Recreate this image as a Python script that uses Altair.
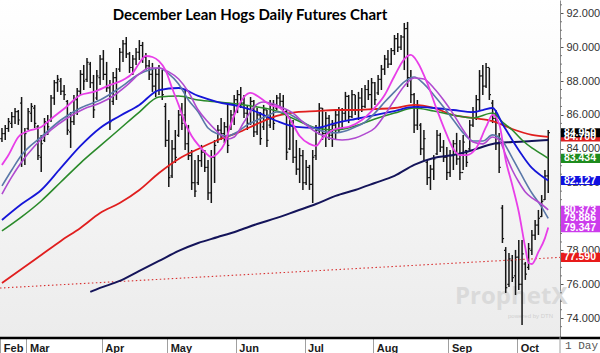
import json
import altair as alt
import pandas as pd

TITLE = "December Lean Hogs Daily Futures Chart"

# ---- axis text
month_names = ["Feb", "Mar", "Apr", "May", "Jun", "Jul", "Aug", "Sep", "Oct"]
month_first_bar = [0, 8, 31, 51, 72, 93, 114, 137, 158]
y_ticks = [74, 76, 78, 80, 82, 84, 86, 88, 90, 92]
y_minor_ticks = [73.5, 74.5, 75, 75.5, 76.5, 77, 77.5, 78.5, 79, 79.5, 80.5, 81, 81.5,
                 82.5, 83, 83.5, 84.5, 85, 85.5, 86.5, 87, 87.5, 88.5, 89, 89.5,
                 90.5, 91, 91.5, 92.5]

# ---- daily OHLC bars (index 0 = first visible trading day)
bar_open = [84.6, 84.9, 85.2, 85.5, 85.9, 86.2, 86.7, 83.4, 85.2, 86.1,
            86.4, 85.3, 83.5, 84.5, 85.5, 85.7, 87.0, 87.9, 88.0, 87.4,
            86.8, 85.0, 85.6, 86.9, 87.4, 88.4, 88.1, 89.0, 87.9, 87.0,
            88.2, 89.3, 88.4, 87.6, 86.8, 88.2, 88.7, 89.7, 90.2, 89.6,
            88.8, 89.3, 89.7, 90.1, 89.4, 88.9, 88.4, 87.7, 88.4, 87.5,
            86.5, 84.5, 82.4, 84.0, 84.8, 86.0, 86.0, 84.3, 83.6, 82.0,
            82.0, 83.3, 83.8, 82.9, 81.4, 83.5, 84.5, 85.1, 84.9, 85.3,
            85.3, 86.0, 86.9, 87.2, 86.7, 86.1, 85.5, 86.8, 85.0, 86.0,
            85.3, 86.3, 85.4, 86.6, 86.4, 87.0, 86.8, 86.2, 84.0, 85.4,
            83.5, 82.8, 83.6, 82.0, 82.9, 81.9, 83.6, 85.1, 86.4, 84.9,
            85.8, 84.8, 85.4, 86.0, 85.2, 86.1, 87.1, 85.9, 87.2, 86.3,
            87.0, 86.5, 87.5, 87.2, 87.9, 87.3, 88.1, 88.7, 89.3, 89.0,
            89.8, 90.5, 90.0, 90.6, 91.1, 88.2, 87.2, 85.4, 85.4, 84.0,
            83.2, 82.3, 82.8, 83.7, 84.8, 84.1, 83.5, 82.6, 83.6, 84.3,
            83.4, 82.6, 83.9, 84.0, 85.4, 86.2, 86.9, 88.3, 87.7, 88.8,
            86.7, 85.8, 84.3, 80.5, 78.0, 76.0, 77.4, 76.5, 77.6, 76.0,
            77.2, 77.0, 78.0, 78.9, 79.5, 80.0, 81.0, 82.4]
bar_high = [85.23, 85.41, 85.82, 86.17, 86.41, 86.29, 87.06, 85.23, 86.41, 86.70,
            86.59, 85.41, 84.82, 85.82, 85.99, 87.18, 88.06, 88.36, 88.18, 87.77,
            86.88, 86.17, 87.18, 87.59, 88.65, 88.95, 89.36, 89.13, 88.36, 88.65,
            89.54, 89.83, 89.13, 88.06, 88.54, 88.77, 89.95, 90.42, 90.60, 89.72,
            89.54, 89.95, 90.42, 90.31, 89.66, 89.24, 89.07, 88.77, 88.95, 88.65,
            86.70, 85.70, 84.52, 85.11, 86.29, 86.70, 87.47, 85.41, 83.93, 83.34,
            83.63, 84.23, 83.93, 83.34, 83.93, 84.52, 85.41, 85.82, 85.58, 86.70,
            86.29, 87.18, 87.47, 87.65, 87.18, 86.59, 87.06, 86.88, 86.41, 86.17,
            86.59, 86.29, 86.88, 86.88, 87.18, 87.30, 87.18, 86.29, 85.82, 85.70,
            84.52, 84.05, 83.93, 83.34, 83.05, 83.93, 85.41, 86.70, 86.41, 86.17,
            85.99, 85.70, 86.29, 86.47, 86.41, 87.36, 87.18, 87.47, 87.18, 87.36,
            87.59, 87.77, 88.06, 88.18, 87.95, 88.36, 88.95, 89.54, 89.83, 89.95,
            90.72, 90.84, 90.72, 91.43, 91.49, 88.65, 87.30, 86.88, 85.52, 85.11,
            83.34, 83.05, 83.63, 85.11, 84.94, 84.52, 84.11, 83.93, 84.52, 84.94,
            84.52, 84.82, 83.93, 85.70, 86.47, 87.18, 88.65, 88.95, 89.07, 88.77,
            86.88, 86.29, 84.94, 80.68, 78.20, 77.85, 77.73, 78.03, 78.62, 78.62,
            77.32, 78.44, 79.21, 79.80, 80.39, 81.27, 82.75, 85.11]
bar_low = [84.40, 84.52, 85.00, 85.23, 85.47, 85.41, 82.93, 83.05, 85.11, 85.58,
           85.23, 83.34, 82.63, 84.40, 84.82, 85.58, 86.59, 87.36, 87.18, 86.88,
           84.82, 84.05, 85.41, 85.99, 87.18, 87.47, 87.95, 87.59, 85.82, 86.88,
           87.77, 88.06, 87.36, 85.11, 86.59, 86.88, 88.54, 89.13, 89.36, 88.48,
           88.36, 88.95, 89.24, 89.07, 88.65, 88.06, 87.36, 87.06, 87.18, 86.88,
           84.11, 81.75, 82.28, 83.16, 84.70, 85.11, 83.93, 83.34, 81.57, 81.16,
           81.86, 82.93, 82.63, 80.98, 80.80, 81.98, 84.34, 84.52, 84.34, 83.75,
           85.11, 85.41, 86.11, 86.41, 85.82, 85.11, 85.41, 84.70, 84.82, 84.23,
           85.11, 84.11, 85.23, 85.11, 86.29, 86.41, 85.99, 83.34, 83.93, 83.16,
           82.46, 81.98, 81.57, 81.86, 81.57, 80.80, 83.34, 84.82, 84.52, 84.11,
           84.52, 84.11, 84.52, 84.94, 85.11, 85.70, 85.52, 85.82, 85.99, 85.70,
           86.17, 86.41, 86.88, 86.29, 86.59, 87.18, 87.47, 88.36, 88.77, 88.95,
           89.54, 89.72, 89.83, 88.65, 87.65, 86.70, 84.94, 85.11, 83.63, 83.34,
           81.86, 81.57, 82.16, 83.63, 83.81, 83.22, 82.16, 82.34, 82.75, 83.05,
           82.16, 82.75, 82.93, 83.93, 85.29, 85.70, 86.29, 87.18, 87.59, 86.88,
           85.52, 83.93, 82.57, 78.44, 75.49, 75.84, 76.14, 75.37, 75.67, 73.60,
           76.26, 76.85, 77.73, 78.62, 78.91, 79.98, 80.98, 81.39]
bar_close = [84.9, 85.2, 85.6, 85.9, 86.2, 85.7, 83.3, 84.9, 86.2, 86.5,
             85.5, 83.6, 84.3, 85.6, 85.3, 87.0, 87.9, 88.1, 87.4, 87.2,
             85.1, 85.6, 86.9, 87.4, 88.4, 88.0, 89.1, 87.9, 86.3, 88.3,
             89.3, 88.4, 87.6, 85.6, 88.2, 87.3, 89.7, 90.2, 89.6, 88.8,
             89.3, 89.7, 90.1, 89.4, 88.9, 88.4, 87.7, 88.4, 87.5, 87.2,
             84.5, 82.3, 84.0, 83.5, 86.0, 85.5, 84.3, 83.6, 82.0, 81.5,
             83.3, 83.8, 82.9, 81.4, 83.5, 84.2, 85.1, 84.9, 85.3, 84.2,
             86.0, 86.9, 87.2, 86.7, 86.1, 85.5, 86.8, 85.0, 86.0, 84.6,
             86.3, 84.5, 86.6, 85.5, 87.0, 86.8, 86.2, 83.8, 85.4, 83.5,
             82.8, 83.6, 82.0, 82.9, 81.9, 83.5, 85.1, 86.4, 84.9, 85.8,
             84.8, 85.4, 86.0, 85.2, 86.1, 87.1, 85.9, 87.2, 86.3, 87.0,
             86.5, 87.5, 87.2, 87.9, 86.9, 88.1, 88.7, 89.3, 89.0, 89.8,
             90.5, 90.0, 90.6, 91.1, 88.2, 87.2, 85.4, 86.5, 84.0, 84.6,
             82.3, 82.8, 83.4, 84.8, 84.1, 83.5, 82.6, 83.6, 84.3, 83.4,
             82.6, 84.4, 83.2, 85.4, 86.2, 86.9, 88.3, 87.7, 88.8, 87.2,
             85.8, 84.3, 82.9, 78.7, 75.8, 77.5, 76.4, 77.6, 76.0, 77.8,
             76.6, 78.1, 78.9, 79.5, 79.9, 80.9, 82.4, 84.95]

# ---- moving-average lines (bar index, price)
ma_magenta_idx = [0, 2, 5, 8, 12, 15, 20, 24, 28, 33, 37, 40, 42, 44, 46, 48, 50, 52, 54, 56,
                  58, 60, 62, 64, 66, 68, 70, 72, 74, 76, 79, 82, 85, 88, 91, 94, 96, 98, 102, 106,
                  110, 113, 117, 120, 123, 125, 127, 130, 133, 136, 138, 140, 142, 145, 148, 150, 152, 154, 156, 158,
                  160, 161, 162, 164, 166, 167]
ma_magenta_val = [83.05, 83.63, 84.70, 85.05, 85.29, 85.76, 86.53, 87.18, 87.36, 87.77, 88.06, 88.48, 89.07, 89.48, 89.42, 89.18, 88.65, 87.59, 86.59, 85.52,
                  84.76, 84.23, 83.81, 83.52, 83.75, 84.29, 85.47, 86.41, 87.06, 87.30, 87.00, 86.59, 86.41, 85.76, 84.76, 84.29, 84.17, 84.64, 85.17, 85.29,
                  85.70, 86.23, 87.18, 88.30, 89.30, 89.54, 89.13, 87.89, 86.29, 84.82, 83.99, 83.63, 83.63, 84.05, 85.29, 86.00, 85.47, 83.34, 81.86, 80.27,
                  78.15, 77.26, 77.20, 77.91, 78.73, 79.35]

ma_violet_idx = [0, 3, 6, 10, 15, 20, 25, 30, 34, 38, 42, 45, 48, 51, 54, 57, 60, 63, 66, 69,
                 71, 74, 77, 80, 83, 86, 89, 92, 96, 100, 104, 108, 111, 114, 117, 120, 123, 126, 129, 132,
                 135, 138, 141, 144, 147, 150, 152, 154, 156, 158, 160, 162, 164, 167]
ma_violet_val = [81.33, 82.34, 83.22, 84.17, 85.11, 85.82, 86.35, 86.70, 87.12, 87.71, 88.42, 88.77, 88.77, 88.54, 88.12, 87.36, 86.29, 85.58, 84.99, 84.58,
                 84.70, 85.58, 86.47, 86.76, 86.65, 86.41, 86.11, 85.58, 84.99, 84.64, 84.52, 84.64, 84.88, 85.23, 86.00, 86.88, 87.71, 88.18, 88.12, 87.59,
                 86.88, 86.05, 85.11, 84.40, 84.29, 84.70, 84.52, 83.63, 82.75, 82.04, 81.45, 81.10, 80.86, 80.40]

ma_steel_idx = [0, 3, 6, 12, 18, 24, 30, 36, 42, 45, 48, 51, 54, 57, 60, 63, 66, 69, 72, 75,
                78, 81, 84, 87, 90, 93, 96, 99, 102, 105, 108, 111, 114, 117, 120, 123, 126, 129, 132, 135,
                138, 141, 144, 147, 150, 153, 156, 159, 162, 165, 167]
ma_steel_val = [81.81, 82.75, 83.63, 84.70, 85.70, 86.41, 86.88, 87.59, 88.42, 88.65, 88.77, 88.42, 87.83, 86.88, 86.17, 85.23, 84.88, 84.76, 85.00, 85.41,
                85.70, 85.94, 86.17, 86.11, 85.82, 85.47, 85.17, 85.00, 84.94, 85.05, 85.29, 85.58, 86.11, 86.76, 87.36, 87.95, 88.24, 87.83, 87.18, 86.47,
                85.70, 84.94, 84.46, 84.46, 84.82, 84.46, 83.46, 82.40, 81.39, 80.56, 79.89]

ma_blue_idx = [0, 6, 12, 18, 24, 30, 36, 42, 48, 54, 60, 66, 72, 78, 84, 90, 96, 102, 108, 114,
               120, 126, 132, 138, 144, 147, 150, 153, 156, 159, 162, 165, 167]
ma_blue_val = [79.80, 80.74, 81.57, 82.87, 84.17, 85.23, 85.94, 86.59, 87.47, 87.59, 87.12, 86.76, 86.53, 86.17, 85.64, 85.29, 85.23, 85.52, 85.76, 85.99,
               86.23, 86.47, 86.41, 86.29, 86.17, 86.29, 86.41, 85.47, 84.52, 83.63, 82.87, 82.40, 82.13]

ma_green_idx = [0, 6, 12, 18, 24, 30, 36, 42, 48, 54, 60, 66, 72, 78, 84, 90, 96, 102, 108, 114,
                120, 126, 132, 138, 144, 150, 153, 156, 159, 162, 165, 167]
ma_green_val = [79.15, 79.98, 80.92, 82.04, 83.16, 84.17, 85.17, 86.17, 87.06, 87.12, 86.88, 86.76, 86.65, 86.47, 86.23, 85.70, 85.23, 85.11, 85.35, 85.76,
                86.11, 86.41, 86.23, 85.99, 85.82, 86.11, 85.58, 85.11, 84.52, 84.05, 83.69, 83.43]

ma_red_idx = [0, 6, 12, 18, 24, 30, 36, 42, 48, 54, 60, 66, 72, 78, 84, 90, 96, 102, 108, 114,
              120, 126, 132, 138, 144, 150, 156, 162, 167]
ma_red_val = [76.08, 76.90, 77.73, 78.56, 79.33, 80.21, 80.80, 81.57, 82.57, 83.40, 83.99, 84.52, 84.94, 85.47, 85.94, 86.17, 86.23, 86.29, 86.29, 86.35,
              86.41, 86.59, 86.41, 85.99, 85.82, 85.64, 85.17, 84.82, 84.70]

ma_navy_idx = [27, 30, 36, 42, 48, 54, 60, 66, 72, 78, 84, 90, 96, 102, 108, 114, 120, 126, 132, 138,
               144, 150, 156, 162, 167]
ma_navy_val = [75.55, 75.79, 76.20, 76.79, 77.38, 77.97, 78.44, 78.79, 79.15, 79.56, 79.92, 80.33, 80.74, 81.22, 81.57, 81.98, 82.40, 83.05, 83.46, 83.63,
               83.93, 84.29, 84.40, 84.46, 84.52]

trend_idx = [-0.6, 170.6]
trend_val = [75.78, 77.59]

# ---- last-value tags on the price axis
tag_values = [84.70, 84.95, 83.434, 82.127, 80.373, 79.886, 79.347, 77.590]
tag_colors = ["#e01e1e", "#000000", "#1e8c1e", "#1010e0", "#cc3cec", "#cc3cec", "#cc3cec", "#e81a1a"]

# ------------------------------------------------------------------
W, H = 560, 337
xs = alt.Scale(domain=[-0.6, 170.6], nice=False, zero=False)
ys = alt.Scale(domain=[72.89, 92.785], nice=False, zero=False)

tick_pos = [m - 0.5 for m in month_first_bar]
label_expr = f"{json.dumps(month_names)}[indexof({json.dumps(tick_pos)}, datum.value)]"
xa = alt.Axis(values=tick_pos, labelExpr=label_expr, orient="bottom", domain=False, grid=False,
              ticks=True, tickSize=16, tickColor="#a0a0a0", tickWidth=1,
              labelAlign="left", labelBaseline="middle", labelPadding=-5, labelOffset=3,
              labelFontSize=11, labelFontWeight="bold", labelFont="Liberation Sans",
              labelColor="#1a1a1a", labelFlush=False, labelOverlap=False, title=None)
ya = alt.Axis(values=y_ticks, format=".3f", orient="right", grid=False, domain=True,
              domainColor="#8a8a8a", tickSize=3, tickColor="#555555", labelPadding=3,
              labelFontSize=11, labelFont="Liberation Sans", labelColor="#333333",
              title=None, zindex=0)


def X(field):
    return alt.X(field, type="quantitative", scale=xs, axis=xa)


def Y(field):
    return alt.Y(field, type="quantitative", scale=ys, axis=ya)


one = alt.Data(values=[{}])

background = alt.Chart(one).mark_rect(
    fill=alt.Gradient(gradient="linear", x1=0, x2=0, y1=0, y2=1,
                      stops=[alt.GradientStop(offset=0, color="#ffffff"),
                             alt.GradientStop(offset=1, color="#ececec")])
).encode(x=alt.value(0), x2=alt.value(W), y=alt.value(0), y2=alt.value(H))

minor = alt.Chart(pd.DataFrame({"v": y_minor_ticks})).mark_rule(
    color="#777777", strokeWidth=1).encode(x=alt.value(W), x2=alt.value(W + 2), y=Y("v"))

n = len(bar_close)
bars_df = pd.DataFrame({"i": list(range(n)), "open": bar_open, "high": bar_high,
                        "low": bar_low, "close": bar_close})
bar_color = "#151515"
hl = alt.Chart(bars_df).mark_rule(color=bar_color, strokeWidth=1.5).encode(
    x=X("i"), y=Y("low"), y2="high")
op = alt.Chart(bars_df).transform_calculate(xo="datum.i - 0.5").mark_rule(
    color=bar_color, strokeWidth=1.2).encode(x=X("xo"), x2="i", y=Y("open"))
cl = alt.Chart(bars_df).transform_calculate(xc="datum.i + 0.5").mark_rule(
    color=bar_color, strokeWidth=1.2).encode(x=X("i"), x2="xc", y=Y("close"))


def line(idx, val, color, width=1.6, dash=None):
    df = pd.DataFrame({"i": idx, "v": val})
    kw = dict(color=color, strokeWidth=width, interpolate="monotone")
    if dash is not None:
        kw["strokeDash"] = dash
    return alt.Chart(df).mark_line(**kw).encode(x=X("i"), y=Y("v"), order="i:Q")


lines = [
    line(trend_idx, trend_val, "#d83030", 1.1, [1.5, 2.5]),
    line(ma_navy_idx, ma_navy_val, "#14145a", 2.0),
    line(ma_red_idx, ma_red_val, "#e01e1e", 1.8),
    line(ma_green_idx, ma_green_val, "#2a8a2a", 1.6),
    line(ma_blue_idx, ma_blue_val, "#1515d8", 1.8),
    line(ma_steel_idx, ma_steel_val, "#5a78a8", 1.6),
    line(ma_violet_idx, ma_violet_val, "#b04ad0", 1.6),
    line(ma_magenta_idx, ma_magenta_val, "#e83ee8", 1.8),
]

tags_df = pd.DataFrame({"v": tag_values, "c": tag_colors, "k": list(range(len(tag_values)))})
tag_box = alt.Chart(tags_df).transform_calculate(
    top="datum.v + 0.27", bot="datum.v - 0.27").mark_rect().encode(
    x=alt.value(W + 1), x2=alt.value(600), y=Y("top"), y2="bot",
    fill=alt.Color("c:N", scale=None), order="k:Q")
tag_txt = alt.Chart(tags_df).transform_calculate(t="format(datum.v, '.3f')").mark_text(
    font="Liberation Sans", fontSize=10.5, fontWeight="bold", color="white",
    align="center", baseline="middle").encode(x=alt.value(W + 20), y=Y("v"), text="t:N")

title = alt.Chart(one).mark_text(text=TITLE, font="Lato", fontSize=15, fontWeight="bold",
                                 color="#000000", align="center", baseline="middle").encode(
    x=alt.value(250), y=alt.value(15))
wm = alt.Chart(one).mark_text(text="ProphetX", font="Open Sans", fontSize=24, fontWeight="bold",
                              color="#dadada", align="left", baseline="middle").encode(
    x=alt.value(455), y=alt.value(297))
wm2 = alt.Chart(one).mark_text(text="powered by DTN", font="Liberation Sans", fontSize=6,
                               color="#d0d0d0", align="left", baseline="middle").encode(
    x=alt.value(508), y=alt.value(316))

base_rule = alt.Chart(one).mark_rule(color="#000000", strokeWidth=2.5).encode(
    x=alt.value(0), x2=alt.value(600), y=alt.value(H + 1))
sep_rule = alt.Chart(one).mark_rule(color="#a0a0a0", strokeWidth=1).encode(
    x=alt.value(W), y=alt.value(H), y2=alt.value(353))
day_txt = alt.Chart(one).mark_text(text="1 Day", font="Liberation Mono", fontSize=11,
                                   color="#555555", align="left", baseline="middle").encode(
    x=alt.value(W + 5), y=alt.value(346))

chart = alt.layer(background, wm, wm2, minor, hl, op, cl, *lines, tag_box, tag_txt, title,
                  base_rule, sep_rule, day_txt).properties(
    width=W, height=H,
    padding={"left": 0, "right": 40, "top": 0, "bottom": 16},
    autosize=alt.AutoSizeParams(type="none"),
    background="white",
).configure_view(stroke=None)

chart.save("out.html", embed_options={"renderer": "svg", "actions": False})
